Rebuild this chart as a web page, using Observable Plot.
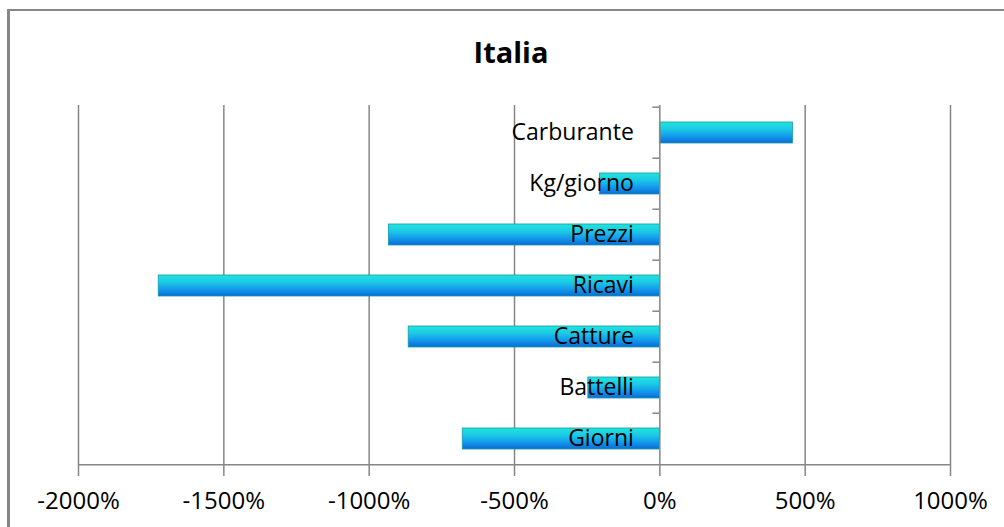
<!DOCTYPE html>
<html>
<head>
<meta charset="utf-8">
<script src="https://cdn.jsdelivr.net/npm/d3@7"></script>
<script src="https://cdn.jsdelivr.net/npm/@observablehq/plot@0.6"></script>
<style>
  html, body { margin: 0; padding: 0; background: #fff; }
  #wrap { position: relative; width: 1004px; height: 527px; overflow: hidden; }
  #border { position: absolute; left: 7px; top: 9px; width: 1100px; height: 600px;
            border-left: 3px solid #868686; border-top: 2px solid #868686; box-sizing: border-box; }
  #title { position: relative; height: 80px; box-sizing: border-box; padding-top: 37px; padding-left: 18px;
           text-align: center; font: bold 29px/29px "Open Sans", sans-serif; color: #000; }
  #chart { position: relative; }
  #chart svg { display: block; }
</style>
</head>
<body>
<div id="wrap">
  <div id="border"></div>
  <div id="title">Italia</div>
  <div id="chart"></div>
</div>
<script>
// Percent change by indicator
const categories = ["Carburante", "Kg/giorno", "Prezzi", "Ricavi", "Catture", "Battelli", "Giorni"];
const values = [458, -206, -932, -1724, -864, -246, -678];
const xTicks = [-2000, -1500, -1000, -500, 0, 500, 1000];

const data = categories.map((c, i) => ({category: c, value: values[i]}));

const width = 1004, height = 447;
const marginTop = 25, marginBottom = 61, marginLeft = 78, marginRight = 54;
const step = (height - marginTop - marginBottom) / categories.length;
const gridColor = "#868686";

const chart = Plot.plot({
  width, height, marginTop, marginBottom, marginLeft, marginRight,
  style: {fontFamily: "'Open Sans', sans-serif", background: "transparent", color: "#000"},
  x: {
    domain: [-2000, 1000],
    ticks: xTicks,
    tickFormat: d => d + "%",
    tickSize: 10,
    tickPadding: 15,
    label: null
  },
  y: {domain: categories, paddingInner: 0.58, paddingOuter: 0.29, axis: null},
  marks: [
    Plot.ruleX(xTicks.filter(t => t !== 0), {stroke: gridColor, strokeWidth: 1.5}),
    Plot.barX(data, {x: "value", y: "category", fill: "url(#barFill)", stroke: "#139aa8", strokeWidth: 0.8}),
    Plot.ruleX([0], {stroke: gridColor, strokeWidth: 1.5}),
    Plot.ruleY(categories, {y: d => d, x1: -24, x2: 0, dy: -step / 2, stroke: gridColor, strokeWidth: 1.5}),
    Plot.ruleY([categories[categories.length - 1]], {y: d => d, x1: -2000, x2: 1000, dy: step / 2, stroke: gridColor, strokeWidth: 1.5}),
    Plot.text(data, {x: 0, y: "category", text: "category", textAnchor: "end", dx: -26, fontSize: 23, fill: "#000"})
  ]
});

// vertical gradient used by the bars
const ns = "http://www.w3.org/2000/svg";
const defs = document.createElementNS(ns, "defs");
defs.innerHTML = `<linearGradient id="barFill" x1="0" y1="0" x2="0" y2="1">
  <stop offset="0" stop-color="#1fe6dc"/>
  <stop offset="0.35" stop-color="#1cc8e6"/>
  <stop offset="0.7" stop-color="#1296ec"/>
  <stop offset="1" stop-color="#0a6cd2"/>
</linearGradient>`;
chart.insertBefore(defs, chart.firstChild);

// x-axis styling: larger tick labels, grey tick marks
const xAxis = chart.querySelector("[aria-label='x-axis tick label']");
if (xAxis) {
  xAxis.setAttribute("font-size", "24");
  xAxis.querySelectorAll("text").forEach(t => t.setAttribute("font-size", "24"));
}
const xTickMarks = chart.querySelector("[aria-label='x-axis tick']");
if (xTickMarks) {
  xTickMarks.setAttribute("stroke", gridColor);
  xTickMarks.setAttribute("stroke-width", "1.5");
}
document.getElementById("chart").appendChild(chart);
</script>
</body>
</html>
